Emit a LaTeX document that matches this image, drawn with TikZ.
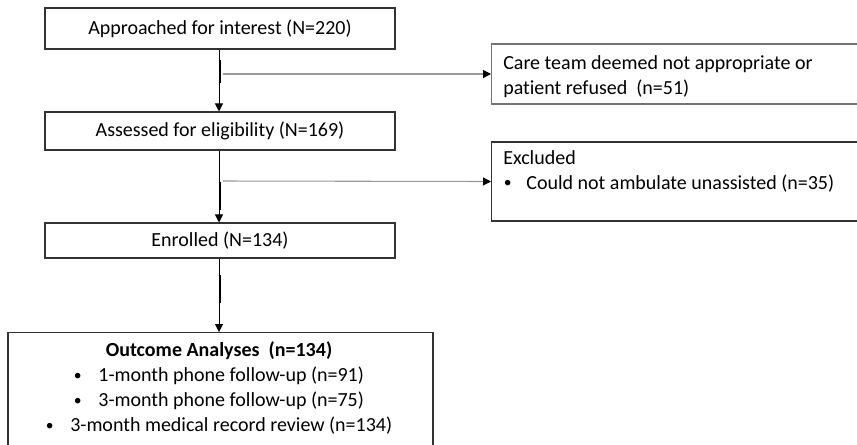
\documentclass[tikz,border=0pt]{standalone}
\usepackage{fontspec}
\setmainfont[Ligatures=NoCommon]{Carlito}
\usetikzlibrary{arrows.meta}
\newcommand\smbul{\raisebox{1.2pt}{\scalebox{0.78}{•}}}
\tikzset{
  box/.style={draw=black!80, line width=0.8pt, rectangle, inner sep=0pt, align=center},
  sidebox/.style={draw=black!80, line width=0.8pt, rectangle, inner sep=0pt, anchor=west, minimum width=285pt},
  flow/.style={draw=black, line width=0.7pt, -{Triangle[length=6pt,width=6pt]}},
  sideflow/.style={draw=black!40, line width=0.8pt, -{Triangle[length=6pt,width=6pt,fill=black,color=black]}},
  joinmark/.style={draw=black, line width=1.4pt},
  txt/.style={inner sep=0pt, font=\fontsize{15}{18.75}\selectfont}
}
\begin{document}
\begin{tikzpicture}[x=0.75pt,y=-0.75pt]
\useasboundingbox (0,0) rectangle (857,444);
\clip (0,0) rectangle (857,444);
\fill[white] (0,0) rectangle (857,444);

% main column
\node[box, txt, minimum width=262.5pt, minimum height=30.75pt] (a) at (220,28.5) {Approached for interest (N=220)};
\node[box, txt, minimum width=262.5pt, minimum height=28.5pt] (b) at (220,131) {Assessed for eligibility (N=169)};
\node[box, txt, minimum width=262.5pt, minimum height=26.25pt] (c) at (220,240.5) {Enrolled (N=134)};
\node[box, minimum width=318.75pt, minimum height=105pt, anchor=north] (d) at (220.5,332) {};
\node[txt, align=center, anchor=north] (dtxt) at (219,341.5) {\textbf{Outcome Analyses\ \ (n=134)}\\
\smbul\hspace{12.5pt}1-month phone follow-up (n=91)\\
\smbul\hspace{12.5pt}3-month phone follow-up (n=75)\\
\smbul\hspace{12.5pt}3-month medical record review (n=134)};

% side boxes
\node[sidebox, draw=black!55, minimum height=45pt] (e) at (491,74) {};
\node[txt, align=left, anchor=north west] (etxt) at (503,55) {Care team deemed not appropriate or\\patient refused\ \ (n=51)};
\node[sidebox, minimum height=59.25pt] (f) at (491,181.5) {};
\node[txt, align=left, anchor=north west] (ftxt) at (503,150) {Excluded\\\hspace{0.5pt}\smbul\hspace{11pt}Could not ambulate unassisted (n=35)};

% connectors
\coordinate (s1) at (223,74);
\coordinate (s2) at (223,181);
\draw[flow] (a.south -| 219,0) -- (b.north -| 219,0);
\draw[flow] (b.south -| 219,0) -- (c.north -| 219,0);
\draw[flow] (c.south -| 219,0) -- (d.north -| 219,0);
\draw[sideflow] (s1) -- (e.west);
\draw[sideflow] (s2) -- (f.west);

% thicker joins on the vertical connectors
\draw[joinmark] (220,60) -- (220,83);
\draw[joinmark] (220,182) -- (220,210);
\draw[joinmark] (220,275) -- (220,303);
\end{tikzpicture}
\end{document}
